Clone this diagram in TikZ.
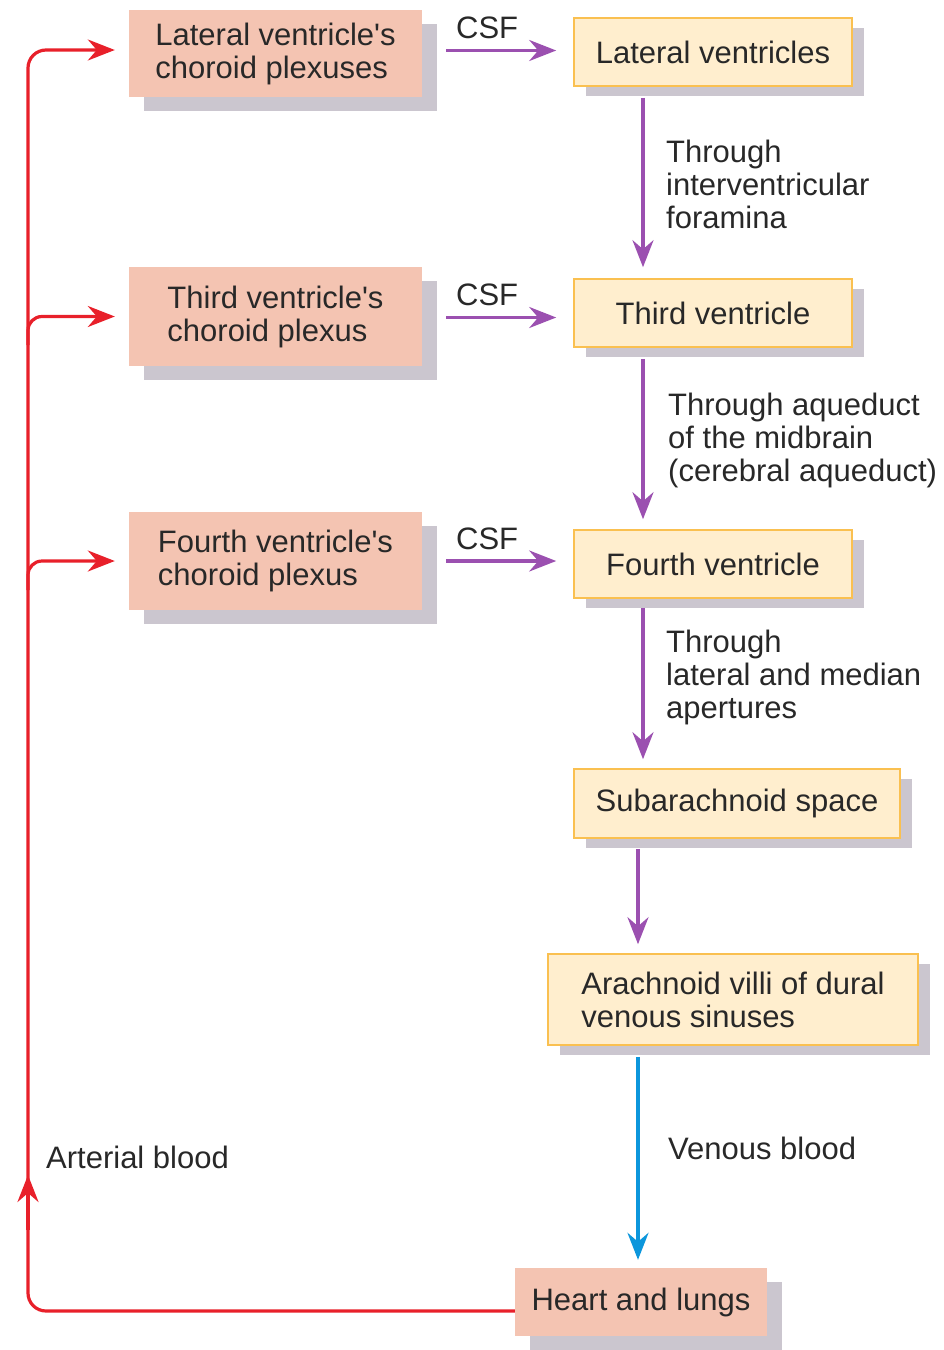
\documentclass[tikz,border=0pt]{standalone}
\usepackage{fontspec}
\setmainfont{Liberation Sans}
\usetikzlibrary{arrows.meta,shadows,calc}
\definecolor{pinkc}{RGB}{244,196,178}
\definecolor{yelc}{RGB}{255,238,206}
\definecolor{orangec}{RGB}{250,192,80}
\definecolor{shadowc}{RGB}{203,198,207}
\definecolor{purpc}{RGB}{155,80,176}
\definecolor{redc}{RGB}{232,32,42}
\definecolor{bluec}{RGB}{12,150,220}
\definecolor{textc}{RGB}{40,40,40}
\begin{document}
\begin{tikzpicture}[x=1pt,y=-1pt,
  font=\fontsize{31}{33}\selectfont, text=textc,
  pbox/.style={fill=pinkc, inner sep=0pt, align=left,
    drop shadow={shadow xshift=15pt,shadow yshift=-14pt,fill=shadowc,opacity=1}},
  ybox/.style={fill=yelc, draw=orangec, line width=1.6pt, inner sep=0pt, align=left,
    drop shadow={shadow xshift=12pt,shadow yshift=-10pt,fill=shadowc,opacity=1}},
  lbl/.style={align=left, anchor=west, inner sep=0pt},
  parrow/.style={draw=purpc, line width=3.4pt, -{Stealth[length=27pt,width=21pt,inset=9pt]}},
  rarrow/.style={draw=redc, line width=3.2pt, -{Stealth[length=27pt,width=21pt,inset=9pt]}},
  barrow/.style={draw=bluec, line width=3.4pt, -{Stealth[length=27pt,width=21pt,inset=9pt]}}
]
\useasboundingbox (0,0) rectangle (943,1350);

% boxes
\node[pbox, minimum width=293pt, minimum height=87pt] (lcp) at (275.5,53.5) {Lateral ventricle\textquotesingle s\\choroid plexuses};
\node[pbox, minimum width=293pt, minimum height=99pt] (tcp) at (275.5,316.5) {Third ventricle\textquotesingle s\\choroid plexus};
\node[pbox, minimum width=293pt, minimum height=98pt] (fcp) at (275.5,561) {Fourth ventricle\textquotesingle s\\choroid plexus};

\node[ybox, minimum width=278pt, minimum height=68pt] (lv) at (713,52) {Lateral ventricles};
\node[ybox, minimum width=278pt, minimum height=68pt] (tv) at (713,313) {Third ventricle};
\node[ybox, minimum width=278pt, minimum height=68pt] (fv) at (713,564) {Fourth ventricle};
\node[ybox, minimum width=326pt, minimum height=69pt] (sas) at (737,803.5) {Subarachnoid space};
\node[ybox, minimum width=370pt, minimum height=91pt] (av) at (733,999.5) {Arachnoid villi of dural\\venous sinuses};
\node[pbox, minimum width=252pt, minimum height=68pt] (hl) at (641,1302) {Heart and lungs};

% CSF arrows
\draw[parrow, shorten <=24pt, shorten >=17pt] ([yshift=3pt]lcp.east) -- ([yshift=3pt]lcp.east -| lv.west)
  node[pos=0.43, above=10pt, inner sep=0pt] (csf1) {CSF};
\draw[parrow, shorten <=24pt, shorten >=17pt] ([yshift=-1pt]tcp.east) -- ([yshift=-1pt]tcp.east -| tv.west)
  node[pos=0.43, above=10pt, inner sep=0pt] (csf2) {CSF};
\draw[parrow, shorten <=24pt, shorten >=17pt] (fcp.east) -- (fcp.east -| fv.west)
  node[pos=0.43, above=10pt, inner sep=0pt] (csf3) {CSF};

% vertical purple arrows
\draw[parrow, shorten <=11pt, shorten >=11pt] ([xshift=-70pt]lv.south) -- ([xshift=-70pt]tv.north);
\draw[parrow, shorten <=11pt, shorten >=10pt] ([xshift=-70pt]tv.south) -- ([xshift=-70pt]fv.north);
\draw[parrow, shorten <=9pt, shorten >=9pt] ([xshift=-70pt]fv.south) -- ([xshift=-94pt]sas.north);
\draw[parrow, shorten <=10pt, shorten >=9pt] ([xshift=-99pt]sas.south) -- ([xshift=-95pt]av.north);
\draw[barrow, shorten <=11pt, shorten >=8pt] ([xshift=-95pt]av.south) -- ([xshift=-3pt]hl.north);

% labels
\node[lbl] (l1) at (666,184) {Through\\interventricular\\foramina};
\node[lbl] (l2) at (668,440) {Through aqueduct\\of the midbrain\\(cerebral aqueduct)};
\node[lbl] (l3) at (666,677) {Through\\lateral and median\\apertures};
\node[lbl] (l4) at (668,1148) {Venous blood};
\node[lbl] (l5) at (46,1157) {Arterial blood};

% red arterial loop
\coordinate (bl) at (28,1311);
\coordinate (tl) at (28,50);
\draw[rarrow, rounded corners=18pt, shorten >=14pt] ([yshift=-9pt]hl.west) -- (bl) -- (tl) -- ([yshift=3.5pt]lcp.west);
\draw[rarrow, rounded corners=14pt, shorten >=14pt] (28,345) -- (28,316.5) -- (tcp.west);
\draw[rarrow, rounded corners=14pt, shorten >=14pt] (28,590) -- (28,561) -- (fcp.west);
\coordinate (ra1) at (28,1230);
\coordinate (ra2) at (28,1175);
\draw[rarrow] (ra1) -- (ra2);
\end{tikzpicture}
\end{document}
